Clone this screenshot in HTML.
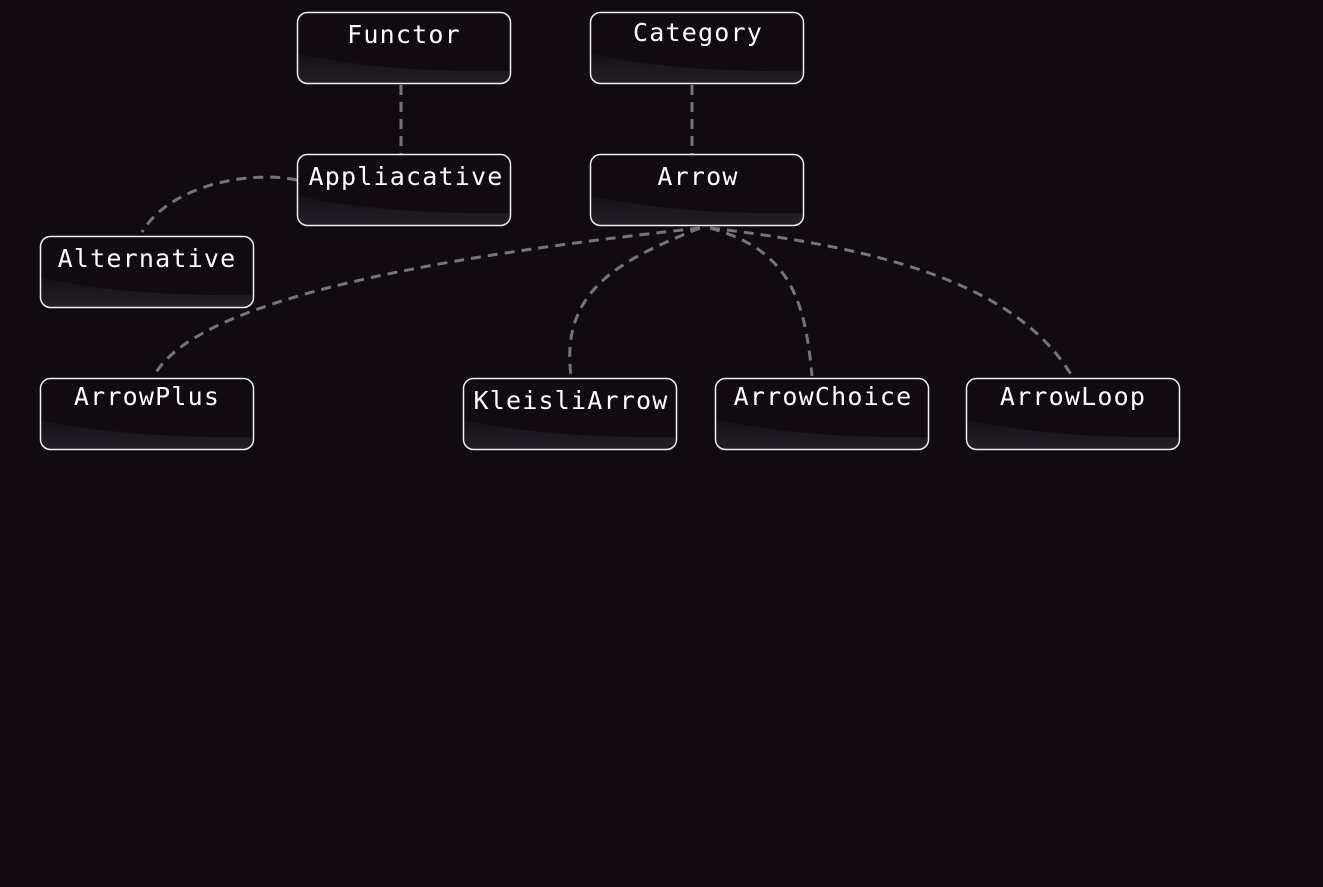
<!DOCTYPE html>
<html><head><meta charset="utf-8"><style>
html,body{margin:0;padding:0;background:#110a11;width:1323px;height:887px;overflow:hidden}
text{font-family:"DejaVu Sans Mono","Liberation Mono",monospace;font-size:25px;fill:#fff;letter-spacing:1.2px}
</style></head><body>
<svg width="1323" height="887" xmlns="http://www.w3.org/2000/svg">
<defs>
<linearGradient id="g" x1="0" y1="0" x2="0" y2="1">
<stop offset="0" stop-color="#161017"/><stop offset="1" stop-color="#241e26"/>
</linearGradient>
<g id="box">
<rect x="0" y="0" width="214" height="72" rx="10" fill="#110a11"/>
<path d="M1 42 C60 54 120 60 213 59 L213 62 Q213 71 204 71 L10 71 Q1 71 1 62 Z" fill="url(#g)"/>
<rect x="0.5" y="0.5" width="213" height="71" rx="10" fill="none" stroke="#f0f0f0" stroke-width="1.5"/>
</g>
</defs>
<g fill="none" stroke="#77737a" stroke-width="3" stroke-dasharray="10,7">
<path d="M401 85 L401 154"/>
<path d="M692 85 L692 154"/>
<path d="M297 180 C250 170 170 185 142 232"/>
<path d="M700 228 C500 250 200 290 154 376"/>
<path d="M700 228 C620 260 560 290 571 376"/>
<path d="M710 228 C790 250 805 300 812 376"/>
<path d="M710 228 C900 250 1020 290 1072 376"/>
</g>
<use href="#box" x="297" y="12"/>
<use href="#box" x="590" y="12"/>
<use href="#box" x="297" y="154"/>
<use href="#box" x="590" y="154"/>
<use href="#box" x="40" y="236"/>
<use href="#box" x="40" y="378"/>
<use href="#box" x="463" y="378"/>
<use href="#box" x="715" y="378"/>
<use href="#box" x="966" y="378"/>
<text x="404" y="43" text-anchor="middle">Functor</text>
<text x="698" y="41" text-anchor="middle">Category</text>
<text x="406" y="185" text-anchor="middle">Appliacative</text>
<text x="698" y="185" text-anchor="middle">Arrow</text>
<text x="147" y="267" text-anchor="middle">Alternative</text>
<text x="147" y="405" text-anchor="middle">ArrowPlus</text>
<text x="571" y="409" text-anchor="middle">KleisliArrow</text>
<text x="823" y="405" text-anchor="middle">ArrowChoice</text>
<text x="1073" y="405" text-anchor="middle">ArrowLoop</text>
</svg>
</body></html>
